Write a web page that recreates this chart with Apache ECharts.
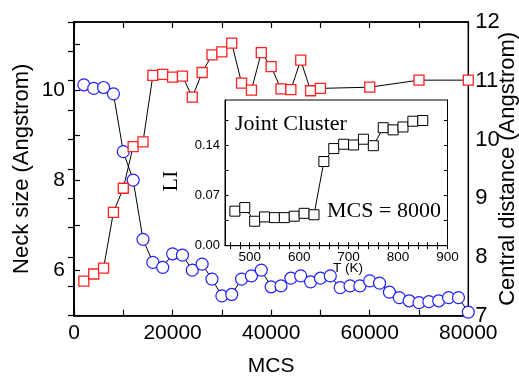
<!DOCTYPE html>
<html><head><meta charset="utf-8">
<script src="https://cdn.jsdelivr.net/npm/echarts@6/dist/echarts.min.js"></script>
<style>html,body{margin:0;padding:0;background:#fff}#c{width:519px;height:377px}</style>
</head><body><div id="c"></div>
<script>
// Main plot: neck size (blue circles, left axis)
const mcsNeck = [2000,4000,6000,8000,10000,12000,14000,16000,18000,20000,22000,24000,26000,28000,30000,32000,34000,36000,38000,40000,42000,44000,46000,48000,50000,52000,54000,56000,58000,60000,62000,64000,66000,68000,70000,72000,74000,76000,78000,80000];
const neckSize = [10.11,10.03,10.05,9.91,8.63,8.00,6.69,6.18,6.07,6.37,6.34,6.01,6.14,5.81,5.44,5.47,5.81,5.88,6.01,5.64,5.66,5.83,5.88,5.75,5.83,5.88,5.62,5.66,5.66,5.77,5.72,5.52,5.40,5.33,5.29,5.31,5.33,5.40,5.40,5.08];
// Main plot: central distance (red squares, right axis)
const mcsCentral = [2000,4000,6000,8000,10000,12000,14000,16000,18000,20000,22000,24000,26000,28000,30000,32000,34000,36000,38000,40000,42000,44000,46000,48000,50000,60000,70000,80000];
const centralDistance = [7.59,7.71,7.81,8.76,9.17,9.88,9.96,11.09,11.11,11.06,11.08,10.72,11.14,11.44,11.49,11.64,10.96,10.84,11.48,11.24,10.86,10.85,11.35,10.83,10.87,10.89,11.01,11.01];
// Inset: LI vs T
const insetT = [470,490,510,530,550,570,590,610,630,650,670,690,710,730,750,770,790,810,830,850];
const insetLI = [0.048,0.053,0.034,0.040,0.039,0.039,0.041,0.045,0.043,0.117,0.135,0.141,0.140,0.148,0.139,0.164,0.161,0.165,0.173,0.174];
// Tick labels / tick positions
const mcsTickLabels = [0,20000,40000,60000,80000];
const mcsTicks = [0,10000,20000,30000,40000,50000,60000,70000,80000];
const neckTickLabels = [6,8,10];
const neckTicks = [5,6,7,8,9,10,11];
const centralTickLabels = [7,8,9,10,11,12];
const centralTicks = [7,7.5,8,8.5,9,9.5,10,10.5,11,11.5,12];
const tTickLabels = [500,600,700,800,900];
const tTicks = [460,480,500,520,540,560,580,600,620,640,660,680,700,720,740,760,780,800,820,840,860,880,900];
const liTickLabels = [0,0.07,0.14];
const liTicks = [0,0.035,0.07,0.105,0.14,0.175];

const SANS = '"Liberation Sans", Arial, sans-serif';
const SERIF = '"Liberation Serif", "Times New Roman", serif';
const zip = (a,b)=>a.map((v,i)=>[v,b[i]]);
const plain = v => String(v);

const chart = echarts.init(document.getElementById('c'), null, {renderer:'canvas'});
const blackLine = {show:true, lineStyle:{color:'#000', width:1.5}};
const inLine = {show:true, lineStyle:{color:'#000', width:1}};
chart.setOption({
  animation:false,
  backgroundColor:'#fff',
  grid:[
    {left:74, top:22, width:394.3, height:293.7, show:true, borderColor:'#000', borderWidth:1.5, backgroundColor:'transparent', containLabel:false, outerBoundsMode:'none'},
    {left:225, top:100, width:222.5, height:145.7, show:true, borderColor:'#000', borderWidth:1, backgroundColor:'#fff', containLabel:false, outerBoundsMode:'none'}
  ],
  xAxis:[
    {gridIndex:0, type:'value', position:'bottom', min:0, max:80000, axisLine:blackLine,
     axisTick:{inside:true, length:6, customValues:mcsTicks, lineStyle:{color:'#000', width:1.2}},
     axisLabel:{customValues:mcsTickLabels, formatter:plain, color:'#000', fontFamily:SANS, fontSize:21, margin:7},
     splitLine:{show:false},
     name:'MCS', nameLocation:'middle', nameGap:51, nameMoveOverlap:false,
     nameTextStyle:{color:'#000', fontFamily:SANS, fontSize:21, verticalAlign:'middle'}},
    {gridIndex:0, type:'value', position:'top', min:0, max:80000, axisLine:blackLine,
     axisTick:{inside:true, length:6, customValues:mcsTicks, lineStyle:{color:'#000', width:1.2}},
     axisLabel:{show:false}, splitLine:{show:false}},
    {gridIndex:1, type:'value', position:'bottom', min:450, max:900, axisLine:inLine,
     axisTick:{inside:true, length:3.5, customValues:tTicks, lineStyle:{color:'#000', width:1}},
     axisLabel:{customValues:tTickLabels, formatter:plain, color:'#000', fontFamily:SANS, fontSize:13.5, margin:5},
     splitLine:{show:false}},
    {gridIndex:1, type:'value', position:'top', min:450, max:900, axisLine:inLine,
     axisTick:{inside:true, length:3.5, customValues:tTicks, lineStyle:{color:'#000', width:1}},
     axisLabel:{show:false}, splitLine:{show:false}}
  ],
  yAxis:[
    {gridIndex:0, type:'value', position:'left', min:5, max:11.5, axisLine:blackLine,
     axisTick:{inside:true, length:6, customValues:neckTicks, lineStyle:{color:'#000', width:1.2}},
     axisLabel:{customValues:neckTickLabels, formatter:plain, color:'#000', fontFamily:SANS, fontSize:21, margin:9},
     splitLine:{show:false},
     name:'Neck size (Angstrom)', nameLocation:'middle', nameGap:52, nameMoveOverlap:false,
     nameTextStyle:{color:'#000', fontFamily:SANS, fontSize:22, verticalAlign:'middle'}},
    {gridIndex:0, type:'value', position:'right', min:7, max:12, axisLine:blackLine,
     axisTick:{inside:true, length:6, customValues:centralTicks, lineStyle:{color:'#000', width:1.2}},
     axisLabel:{customValues:centralTickLabels, formatter:plain, color:'#000', fontFamily:SANS, fontSize:22, margin:7},
     splitLine:{show:false},
     name:'Central distance (Angstrom)', nameLocation:'middle', nameGap:40, nameMoveOverlap:false,
     nameTextStyle:{color:'#000', fontFamily:SANS, fontSize:22, verticalAlign:'middle'}},
    {gridIndex:1, type:'value', position:'left', min:0, max:0.2025, axisLine:inLine,
     axisTick:{inside:true, length:3.5, customValues:liTicks, lineStyle:{color:'#000', width:1}},
     axisLabel:{customValues:liTickLabels, color:'#000', fontFamily:SANS, fontSize:13, margin:5,
       formatter:v=>Number(v).toFixed(2)},
     splitLine:{show:false}},
    {gridIndex:1, type:'value', position:'right', min:0, max:0.2025, axisLine:inLine,
     axisTick:{inside:true, length:3.5, customValues:liTicks, lineStyle:{color:'#000', width:1}},
     axisLabel:{show:false}, splitLine:{show:false}}
  ],
  series:[
    {type:'line', xAxisIndex:0, yAxisIndex:0, data:zip(mcsNeck, neckSize),
     symbol:'circle', symbolSize:12, clip:false,
     itemStyle:{color:'#fff', borderColor:'#2020ff', borderWidth:1.2},
     lineStyle:{color:'#000', width:1}, z:3},
    {type:'line', xAxisIndex:0, yAxisIndex:1, data:zip(mcsCentral, centralDistance),
     symbol:'rect', symbolSize:10, clip:false,
     itemStyle:{color:'#fff', borderColor:'#ff2020', borderWidth:1.3},
     lineStyle:{color:'#000', width:1}, z:4},
    {type:'line', xAxisIndex:2, yAxisIndex:2, data:zip(insetT, insetLI),
     symbol:'rect', symbolSize:10,
     itemStyle:{color:'#fff', borderColor:'#000', borderWidth:1},
     lineStyle:{color:'#000', width:1}, z:5}
  ],
  graphic:[
    {type:'text', x:235, y:124, z:10, style:{text:'Joint Cluster', font:'22px '+SERIF, fill:'#000', textAlign:'left', textVerticalAlign:'middle', align:'left', verticalAlign:'middle'}},
    {type:'text', x:327, y:211, z:10, style:{text:'MCS = 8000', font:'22px '+SERIF, fill:'#000', textAlign:'left', textVerticalAlign:'middle', align:'left', verticalAlign:'middle'}},
    {type:'text', x:171, y:181, rotation:Math.PI/2, z:10, style:{text:'LI', font:'22px '+SERIF, fill:'#000', textAlign:'center', textVerticalAlign:'middle', align:'center', verticalAlign:'middle'}},
    {type:'text', x:348, y:268, z:10, style:{text:'T (K)', font:'13.5px '+SANS, fill:'#000', textAlign:'center', textVerticalAlign:'middle', align:'center', verticalAlign:'middle'}}
  ]
});
</script></body></html>
